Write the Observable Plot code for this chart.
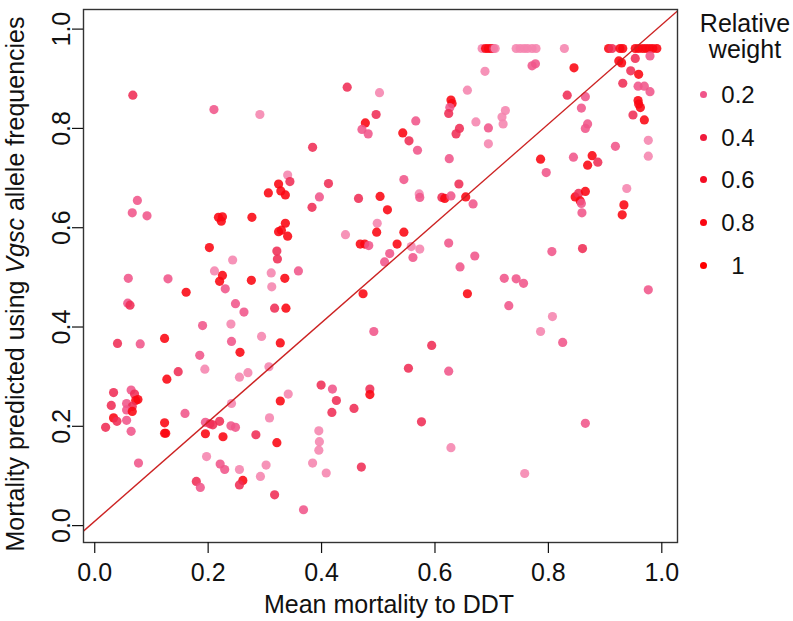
<!DOCTYPE html>
<html>
<head>
<meta charset="utf-8">
<script src="https://cdn.jsdelivr.net/npm/d3@7"></script>
<script src="https://cdn.jsdelivr.net/npm/@observablehq/plot@0.6"></script>
<style>
  body { margin: 0; background: #fff; font-family: "Liberation Sans", Arial, Helvetica, sans-serif; color: #111; }
  #wrap { position: relative; width: 793px; height: 621px; overflow: hidden; }
  #wrap svg { position: absolute; left: 0; top: 0; }
  .ttl { position: absolute; font-size: 25px; line-height: 25px; white-space: nowrap; color: #111; }
  #xtitle { left: 389px; top: 592px; transform: translateX(-50%); }
  #ytitle { left: 15px; top: 284px; transform: translate(-50%, -50%) rotate(-90deg); }
  #legend { position: absolute; left: 690px; top: 0; width: 103px; height: 300px; }
  #legtitle { position: absolute; left: 0; top: 10px; width: 110px; text-align: center; font-size: 25px; line-height: 26px; }
  .legrow { position: absolute; left: 0; width: 103px; height: 25px; }
  .legdot { position: absolute; left: 10px; top: 9px; width: 7px; height: 7px; border-radius: 50%; }
  .leglab { position: absolute; left: 28px; width: 40px; top: 0; text-align: center; font-size: 24px; line-height: 25px; }
</style>
</head>
<body>
<div id="wrap"></div>
<script>
// Mean mortality to DDT (x)
const mortality = [
  0.076,0.219,0.300,0.454,0.511,0.505,0.486,0.480,0.491,0.393,
  0.349,0.333,0.353,0.315,0.337,0.345,0.421,0.405,0.474,0.084,
  0.512,0.075,0.101,0.227,0.234,0.232,0.286,0.392,0.345,0.333,
  0.338,0.349,0.451,0.477,0.485,0.492,0.507,0.506,0.211,0.330,
  0.331,0.252,0.220,0.234,0.229,0.239,0.285,0.320,0.321,0.344,
  0.368,0.068,0.138,0.170,0.067,0.071,0.257,0.272,0.326,0.346,
  0.482,0.199,0.249,0.303,0.501,0.049,0.089,0.132,0.250,0.265,
  0.336,0.194,0.203,0.316,0.136,0.156,0.264,0.279,0.408,0.428,
  0.494,0.042,0.073,0.079,0.085,0.081,0.038,0.065,0.075,0.065,
  0.075,0.042,0.048,0.065,0.073,0.028,0.132,0.132,0.134,0.086,
  0.168,0.250,0.204,0.217,0.212,0.229,0.204,0.235,0.249,0.257,
  0.293,0.330,0.336,0.350,0.317,0.206,0.230,0.238,0.264,0.311,
  0.301,0.188,0.195,0.270,0.264,0.326,0.377,0.393,0.404,0.405,
  0.404,0.417,0.435,0.427,0.466,0.479,0.494,
  0.692,0.698,0.703,0.708,0.712,0.715,0.752,0.759,0.766,0.772,
  0.780,0.787,0.837,0.915,0.921,0.935,0.940,0.962,0.968,0.975,
  0.981,0.987,0.993,1.000,
  0.933,0.938,0.962,0.988,0.854,0.786,0.780,0.697,0.954,0.968,
  0.940,0.967,0.978,0.988,0.666,0.842,0.874,0.967,0.971,0.968,
  0.867,0.637,0.639,0.635,0.633,0.733,0.727,0.729,0.575,0.681,
  0.703,0.652,0.646,0.958,0.978,0.878,0.874,0.552,0.563,0.578,
  0.703,0.927,0.985,0.985,0.634,0.795,0.853,0.886,0.878,0.896,
  0.805,0.554,0.651,0.947,0.581,0.582,0.621,0.626,0.637,0.663,
  0.856,0.862,0.874,
  0.676,0.525,0.554,0.542,0.529,0.520,0.567,0.582,0.570,0.633,
  0.679,0.653,0.666,0.865,0.867,0.868,0.942,0.939,0.869,0.815,
  0.985,0.731,0.752,0.765,0.739,0.816,0.795,0.834,0.603,0.562,
  0.633,0.585,0.637,0.767,0.874
];
// Mortality predicted using Vgsc allele frequencies (y)
const predicted = [
  0.867,0.838,0.828,0.883,0.872,0.828,0.811,0.798,0.789,0.762,
  0.706,0.688,0.693,0.670,0.674,0.666,0.689,0.662,0.659,0.655,
  0.663,0.630,0.624,0.621,0.622,0.613,0.621,0.641,0.609,0.592,
  0.595,0.583,0.586,0.567,0.567,0.564,0.609,0.591,0.560,0.553,
  0.537,0.535,0.513,0.504,0.492,0.477,0.494,0.509,0.481,0.498,
  0.513,0.498,0.497,0.470,0.448,0.444,0.447,0.430,0.438,0.438,
  0.467,0.403,0.406,0.381,0.391,0.367,0.366,0.377,0.371,0.349,
  0.368,0.343,0.315,0.320,0.295,0.310,0.299,0.308,0.283,0.275,
  0.275,0.268,0.273,0.265,0.254,0.252,0.242,0.246,0.240,0.233,
  0.230,0.217,0.210,0.212,0.190,0.198,0.207,0.186,0.186,0.126,
  0.226,0.246,0.208,0.203,0.205,0.210,0.185,0.179,0.201,0.198,
  0.183,0.167,0.251,0.265,0.217,0.139,0.124,0.113,0.113,0.122,
  0.099,0.089,0.077,0.091,0.082,0.062,0.032,0.126,0.191,0.169,
  0.152,0.106,0.252,0.228,0.236,0.118,0.264,
  0.961,0.961,0.961,0.961,0.961,0.961,0.961,0.961,0.961,0.961,
  0.961,0.961,0.961,0.961,0.961,0.961,0.961,0.961,0.961,0.961,
  0.961,0.961,0.961,0.961,
  0.936,0.932,0.941,0.946,0.922,0.930,0.926,0.915,0.916,0.909,
  0.891,0.885,0.885,0.874,0.877,0.867,0.864,0.856,0.842,0.849,
  0.841,0.857,0.850,0.842,0.830,0.836,0.823,0.809,0.815,0.813,
  0.801,0.800,0.789,0.827,0.817,0.809,0.800,0.791,0.775,0.756,
  0.769,0.764,0.776,0.744,0.739,0.738,0.742,0.745,0.726,0.732,
  0.711,0.697,0.688,0.679,0.668,0.661,0.661,0.659,0.664,0.662,
  0.662,0.669,0.673,
  0.648,0.636,0.591,0.567,0.548,0.531,0.562,0.557,0.540,0.569,
  0.543,0.521,0.467,0.654,0.649,0.630,0.646,0.626,0.558,0.552,
  0.475,0.498,0.497,0.488,0.443,0.421,0.391,0.369,0.363,0.317,
  0.311,0.209,0.157,0.105,0.206
];
// Relative weight of each point
const weight = [
  0.3,0.2,0.08,0.3,0.08,0.3,0.8,0.2,0.2,0.3,
  0.08,0.8,0.3,0.8,0.8,0.8,0.3,0.2,0.3,0.2,
  0.8,0.2,0.2,0.8,0.8,0.8,0.8,0.3,0.8,0.8,
  0.8,0.8,0.08,0.8,0.8,0.2,0.08,0.8,0.8,0.3,
  0.3,0.08,0.08,0.8,0.8,0.2,0.8,0.08,0.08,0.8,
  0.2,0.2,0.2,0.8,0.2,0.3,0.2,0.2,0.3,0.8,
  0.8,0.2,0.08,0.08,0.2,0.3,0.2,0.8,0.2,0.8,
  0.8,0.2,0.08,0.08,0.8,0.3,0.08,0.08,0.3,0.2,
  0.3,0.3,0.2,0.3,0.8,0.8,0.3,0.2,0.3,0.2,
  0.8,0.8,0.3,0.2,0.2,0.3,0.8,0.8,0.8,0.2,
  0.2,0.08,0.2,0.3,0.3,0.3,0.8,0.8,0.2,0.2,
  0.3,0.8,0.8,0.08,0.08,0.08,0.2,0.2,0.08,0.08,
  0.08,0.3,0.2,0.8,0.3,0.3,0.2,0.08,0.08,0.08,
  0.08,0.08,0.3,0.3,0.3,0.3,0.8,
  0.08,0.8,0.8,0.8,0.3,0.08,0.08,0.08,0.08,0.08,
  0.08,0.08,0.08,0.8,0.3,0.8,0.8,0.8,0.8,0.8,
  0.8,0.8,0.8,0.8,
  0.8,0.8,0.3,0.2,0.8,0.2,0.2,0.08,0.3,0.8,
  0.3,0.2,0.2,0.2,0.08,0.3,0.2,0.8,0.8,0.8,
  0.2,0.8,0.8,0.2,0.3,0.08,0.08,0.08,0.2,0.08,
  0.2,0.3,0.3,0.3,0.8,0.2,0.2,0.8,0.3,0.2,
  0.08,0.2,0.08,0.08,0.2,0.8,0.2,0.8,0.8,0.3,
  0.2,0.2,0.3,0.08,0.08,0.2,0.3,0.8,0.2,0.8,
  0.8,0.3,0.8,
  0.2,0.8,0.8,0.8,0.2,0.2,0.08,0.08,0.2,0.2,
  0.2,0.2,0.8,0.8,0.2,0.2,0.8,0.8,0.3,0.2,
  0.2,0.2,0.2,0.2,0.2,0.08,0.08,0.2,0.3,0.3,
  0.2,0.3,0.08,0.08,0.2
];
const xTicks = [0, 0.2, 0.4, 0.6, 0.8, 1.0];
const yTicks = [0, 0.2, 0.4, 0.6, 0.8, 1.0];
const legendValues = [0.2, 0.4, 0.6, 0.8, 1];
const legendLabels = ["0.2", "0.4", "0.6", "0.8", "1"];
const colorStops = [0, 0.2, 0.3, 0.45, 1];
const colorRange = ["#f9a3c6", "#f0558a", "#ef2d55", "#f01030", "#ff0000"];

const data = mortality.map((m, i) => ({ m, p: predicted[i], w: weight[i] }));
const fmt = d3.format(".1f");

const plot = Plot.plot({
  width: 793,
  height: 621,
  marginLeft: 83,
  marginRight: 116,
  marginTop: 9,
  marginBottom: 79,
  style: { fontFamily: "'Liberation Sans', Arial, sans-serif", fontSize: "25px", background: "white", color: "#111", overflow: "visible" },
  x: { domain: [-0.011, 1.0365] },
  y: { domain: [-0.034, 1.0395] },
  color: { type: "linear", domain: colorStops, range: colorRange, interpolate: "rgb" },
  marks: [
    Plot.dot(data, { x: "m", y: "p", r: 4.6, fill: "w", fillOpacity: 0.88, stroke: "none" }),
    Plot.link([0], { x1: -0.2, y1: -0.2, x2: 1.2, y2: 1.2, stroke: "#cc2222", strokeWidth: 1.4, clip: true }),
    Plot.frame({ stroke: "#333", strokeWidth: 1.4 }),
    Plot.axisX(xTicks, { tickSize: 11, tickPadding: 10, tickFormat: fmt, fontSize: 25, dx: 5, label: null, strokeWidth: 1.2 }),
    Plot.axisY(yTicks, { tickSize: 11, tickRotate: -90, tickPadding: 3, tickFormat: fmt, fontSize: 25, label: null, strokeWidth: 1.2 })
  ]
});

const wrap = document.getElementById("wrap");
wrap.appendChild(plot);

const xt = document.createElement("div");
xt.id = "xtitle"; xt.className = "ttl";
xt.textContent = "Mean mortality to DDT";
wrap.appendChild(xt);

const yt = document.createElement("div");
yt.id = "ytitle"; yt.className = "ttl";
yt.innerHTML = "Mortality predicted using <i>Vgsc</i> allele frequencies";
wrap.appendChild(yt);

const colorFn = d3.scaleLinear().domain(colorStops).range(colorRange).interpolate(d3.interpolateRgb).clamp(true);
const leg = document.createElement("div");
leg.id = "legend";
const lt = document.createElement("div");
lt.id = "legtitle";
lt.innerHTML = "Relative<br>weight";
leg.appendChild(lt);
legendValues.forEach((v, i) => {
  const row = document.createElement("div");
  row.className = "legrow";
  row.style.top = (82 + i * 42.7) + "px";
  const dot = document.createElement("div");
  dot.className = "legdot";
  dot.style.background = colorFn(v);
  const lab = document.createElement("div");
  lab.className = "leglab";
  lab.textContent = legendLabels[i];
  row.appendChild(dot);
  row.appendChild(lab);
  leg.appendChild(row);
});
wrap.appendChild(leg);
</script>
</body>
</html>
